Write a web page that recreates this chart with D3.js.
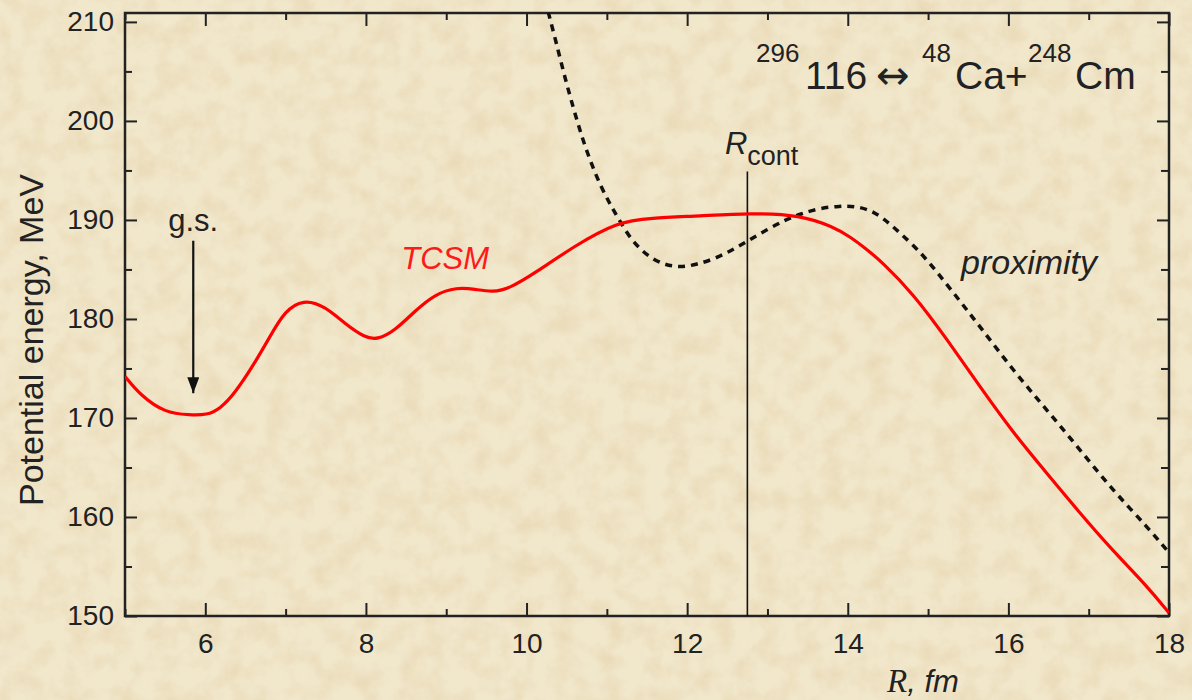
<!DOCTYPE html>
<html>
<head>
<meta charset="utf-8">
<script src="https://cdn.jsdelivr.net/npm/d3@7"></script>
<style>
  body { margin: 0; background: #ece0c2; }
  svg { display: block; }
  text { font-family: "Liberation Sans", Arial, sans-serif; fill: #222; }
</style>
</head>
<body>
<svg id="chart"></svg>
<script>
// TCSM potential (red solid): R [fm], energy [MeV]
var tcsmR = [5.0, 5.19, 5.5, 5.81, 6.02, 6.18, 6.37, 6.62, 6.81, 6.99, 7.22, 7.49, 7.74, 7.99, 8.14, 8.36, 8.61, 8.86, 9.13, 9.36, 9.58, 9.79, 10.08, 10.6, 11.13, 11.54, 12.16, 12.78, 13.41, 13.82, 14.03, 14.24, 14.42, 14.81, 15.24, 15.65, 16.06, 16.48, 16.89, 17.30, 17.73, 18.0];
var tcsmE = [174.2, 172.3, 170.5, 170.3, 170.3, 170.9, 172.5, 175.6, 178.3, 180.8, 182.0, 181.3, 179.5, 178.1, 177.9, 178.8, 180.8, 182.5, 183.2, 183.0, 182.7, 183.1, 184.5, 187.4, 189.8, 190.2, 190.4, 190.7, 190.5, 189.3, 188.3, 187.0, 185.8, 182.6, 177.9, 173.1, 168.5, 164.4, 160.4, 156.6, 153.0, 150.3];

// proximity potential (black dotted)
var proxR = [10.27, 10.37, 10.48, 10.59, 10.70, 10.82, 10.93, 11.04, 11.16, 11.31, 11.50, 11.70, 11.91, 12.12, 12.35, 12.57, 12.78, 12.99, 13.22, 13.41, 13.65, 13.90, 14.09, 14.28, 14.44, 14.65, 14.94, 15.31, 15.65, 16.06, 16.48, 16.89, 17.30, 17.73, 18.0];
var proxE = [211.0, 207.9, 204.3, 201.1, 198.1, 195.4, 193.3, 191.6, 189.9, 187.9, 186.4, 185.5, 185.2, 185.5, 186.1, 187.0, 188.0, 189.0, 190.0, 190.6, 191.2, 191.4, 191.4, 191.0, 190.2, 188.7, 186.5, 182.7, 179.2, 174.8, 170.8, 166.8, 162.7, 159.0, 156.4];

var xTicks = [6, 8, 10, 12, 14, 16, 18];
var yTicks = [150, 160, 170, 180, 190, 200, 210];
var xMinor = [5, 7, 9, 11, 13, 15, 17];
var yMinor = [155, 165, 175, 185, 195, 205];

var rCont = 12.75;          // contact distance
var gsR = 5.85;             // ground state marker

var W = 1192, H = 700;
var margin = { top: 13, right: 23, bottom: 84, left: 125 },
    width = W - margin.left - margin.right,
    height = H - margin.top - margin.bottom;

var svg = d3.select("#chart").attr("width", W).attr("height", H);

// parchment-like background
var defs = svg.append("defs");
var f = defs.append("filter").attr("id", "paper").attr("x", 0).attr("y", 0).attr("width", 1).attr("height", 1);
f.append("feTurbulence").attr("type", "fractalNoise").attr("baseFrequency", "0.045").attr("numOctaves", 4).attr("seed", 7);
f.append("feColorMatrix").attr("type", "matrix")
    .attr("values", "0 0 0 0 0.78  0 0 0 0 0.64  0 0 0 0 0.40  0 0 0 1.1 -0.42");
svg.append("rect").attr("width", W).attr("height", H).attr("fill", "#f1e7cb");
svg.append("rect").attr("width", W).attr("height", H).attr("filter", "url(#paper)");

defs.append("clipPath").attr("id", "plotclip")
    .append("rect").attr("width", width).attr("height", height);

defs.append("marker").attr("id", "arrow")
    .attr("viewBox", "0 0 16 12").attr("refX", 16).attr("refY", 6)
    .attr("markerWidth", 16).attr("markerHeight", 12).attr("markerUnits", "userSpaceOnUse")
    .attr("orient", "auto")
    .append("path").attr("d", "M0,0 L16,6 L0,12 Z").attr("fill", "#111");

var g = svg.append("g").attr("transform", "translate(" + margin.left + "," + margin.top + ")");

var x = d3.scaleLinear().domain([5, 18]).range([0, width]);
var y = d3.scaleLinear().domain([150, 210.9]).range([height, 0]);

// axes with inward ticks on all four sides
function styleAxis(sel) {
    sel.select(".domain").remove();
    sel.attr("font-family", null).attr("font-size", null);
    sel.selectAll(".tick line").attr("stroke", "#222").attr("stroke-width", 2);
    sel.selectAll(".tick text").attr("fill", "#222").style("font-size", "28px");
}
g.append("g").attr("transform", "translate(0," + height + ")")
    .call(d3.axisBottom(x).tickValues(xTicks).tickSize(-13).tickPadding(17).tickFormat(d3.format("d")))
    .call(styleAxis);
g.append("g").attr("transform", "translate(0," + height + ")")
    .call(d3.axisBottom(x).tickValues(xMinor).tickSize(-7).tickFormat(""))
    .call(styleAxis);
g.append("g").call(d3.axisTop(x).tickValues(xTicks).tickSize(-13).tickFormat("")).call(styleAxis);
g.append("g").call(d3.axisTop(x).tickValues(xMinor).tickSize(-7).tickFormat("")).call(styleAxis);

g.append("g")
    .call(d3.axisLeft(y).tickValues(yTicks).tickSize(-12).tickPadding(11).tickFormat(d3.format("d")))
    .call(styleAxis);
g.append("g").call(d3.axisLeft(y).tickValues(yMinor).tickSize(-7).tickFormat("")).call(styleAxis);
g.append("g").attr("transform", "translate(" + width + ",0)")
    .call(d3.axisRight(y).tickValues(yTicks).tickSize(-12).tickFormat("")).call(styleAxis);
g.append("g").attr("transform", "translate(" + width + ",0)")
    .call(d3.axisRight(y).tickValues(yMinor).tickSize(-8).tickFormat("")).call(styleAxis);

// frame
g.append("rect").attr("width", width).attr("height", height)
    .attr("fill", "none").attr("stroke", "#222").attr("stroke-width", 2.5);

var line = d3.line().curve(d3.curveBasis)
    .x(d => x(d[0])).y(d => y(d[1]));

var plot = g.append("g").attr("clip-path", "url(#plotclip)");

// R_cont vertical line
plot.append("line")
    .attr("x1", x(rCont)).attr("x2", x(rCont))
    .attr("y1", y(194.9)).attr("y2", y(150))
    .attr("stroke", "#111").attr("stroke-width", 1.6);

plot.append("path")
    .datum(d3.zip(proxR, proxE))
    .attr("d", line)
    .attr("fill", "none").attr("stroke", "#111").attr("stroke-width", 3.5)
    .attr("stroke-dasharray", "7,6");

plot.append("path")
    .datum(d3.zip(tcsmR, tcsmE))
    .attr("d", line)
    .attr("fill", "none").attr("stroke", "#ff0000").attr("stroke-width", 3.2);

// g.s. arrow
g.append("line")
    .attr("x1", x(gsR)).attr("x2", x(gsR))
    .attr("y1", y(187.9)).attr("y2", y(172.5))
    .attr("stroke", "#111").attr("stroke-width", 2.2)
    .attr("marker-end", "url(#arrow)");

g.append("text").attr("x", x(gsR)).attr("y", y(188.9))
    .attr("text-anchor", "middle").style("font-size", "31px").text("g.s.");

g.append("text").attr("x", x(8.44)).attr("y", y(185.0))
    .style("font-size", "31px").style("font-style", "italic").style("fill", "#ff1a1a")
    .text("TCSM");

g.append("text").attr("x", x(15.41)).attr("y", y(184.5))
    .style("font-size", "34px").style("font-style", "italic").style("fill", "#222")
    .text("proximity");

// R_cont label
var rc = g.append("text").attr("x", x(12.47)).attr("y", y(196.7));
rc.append("tspan").style("font-size", "31px").style("font-style", "italic").text("R");
rc.append("tspan").style("font-size", "27px").attr("dy", 11).text("cont");

// reaction title
var titleParts = [
    { t: "296", px: 756, sup: true },
    { t: "116", px: 805 },
    { t: "\u2194", px: 876, arrow: true },
    { t: "48", px: 922, sup: true },
    { t: "Ca+", px: 955 },
    { t: "248", px: 1028, sup: true },
    { t: "Cm", px: 1075 }
];
var title = svg.append("text");
titleParts.forEach(function (p) {
    title.append("tspan")
        .attr("x", p.px)
        .attr("y", p.sup ? 62 : 89)
        .style("font-size", p.sup ? "26px" : p.arrow ? "40px" : "39px")
        .style("font-family", p.arrow ? "\"DejaVu Sans\", sans-serif" : null)
        .text(p.t);
});

// axis labels
var xl = svg.append("text").attr("x", 887).attr("y", 692);
xl.append("tspan").style("font-family", "\"Liberation Serif\", serif").style("font-style", "italic").style("font-size", "33px").text("R");
xl.append("tspan").style("font-style", "italic").style("font-size", "31px").text(", fm");

svg.append("text")
    .attr("transform", "translate(43,340) rotate(-90)")
    .attr("text-anchor", "middle")
    .style("font-size", "34px")
    .text("Potential energy, MeV");
</script>
</body>
</html>
